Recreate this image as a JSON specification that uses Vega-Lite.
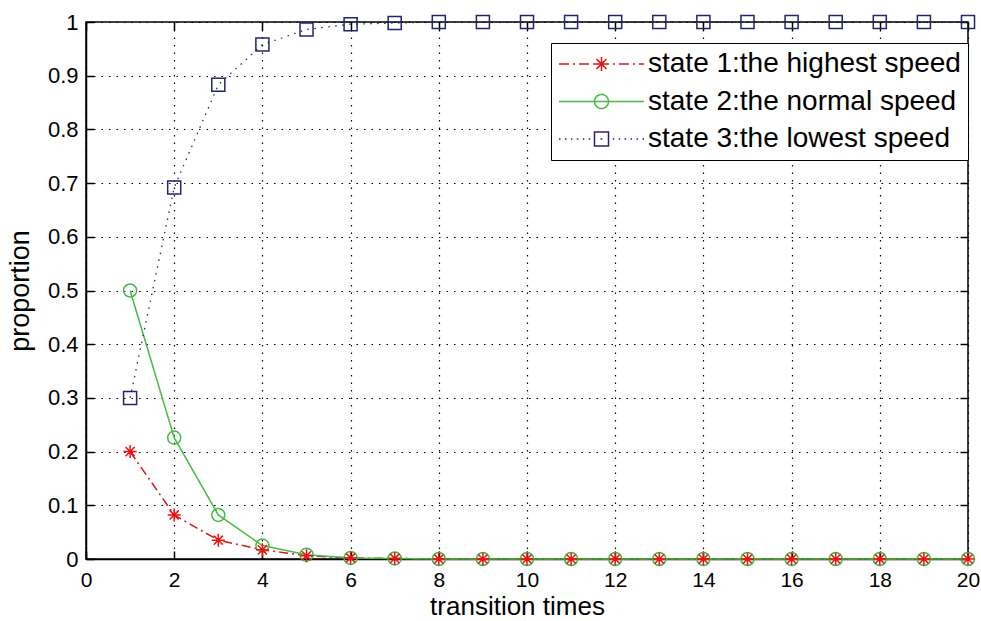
{
  "$schema": "https://vega.github.io/schema/vega-lite/v6.json",
  "width": 882,
  "height": 537,
  "autosize": "none",
  "padding": {"left": 86, "top": 22, "right": 13, "bottom": 62},
  "background": "white",
  "config": {
    "font": "Liberation Sans",
    "view": {"stroke": "black", "strokeWidth": 1.5}
  },
  "data": {"values": [
    {"t": 1, "state": "state 1:the highest speed", "p": 0.2},
    {"t": 2, "state": "state 1:the highest speed", "p": 0.082},
    {"t": 3, "state": "state 1:the highest speed", "p": 0.035},
    {"t": 4, "state": "state 1:the highest speed", "p": 0.017},
    {"t": 5, "state": "state 1:the highest speed", "p": 0.006},
    {"t": 6, "state": "state 1:the highest speed", "p": 0.002},
    {"t": 7, "state": "state 1:the highest speed", "p": 0.001},
    {"t": 8, "state": "state 1:the highest speed", "p": 0},
    {"t": 9, "state": "state 1:the highest speed", "p": 0},
    {"t": 10, "state": "state 1:the highest speed", "p": 0},
    {"t": 11, "state": "state 1:the highest speed", "p": 0},
    {"t": 12, "state": "state 1:the highest speed", "p": 0},
    {"t": 13, "state": "state 1:the highest speed", "p": 0},
    {"t": 14, "state": "state 1:the highest speed", "p": 0},
    {"t": 15, "state": "state 1:the highest speed", "p": 0},
    {"t": 16, "state": "state 1:the highest speed", "p": 0},
    {"t": 17, "state": "state 1:the highest speed", "p": 0},
    {"t": 18, "state": "state 1:the highest speed", "p": 0},
    {"t": 19, "state": "state 1:the highest speed", "p": 0},
    {"t": 20, "state": "state 1:the highest speed", "p": 0},
    {"t": 1, "state": "state 2:the normal speed", "p": 0.5},
    {"t": 2, "state": "state 2:the normal speed", "p": 0.226},
    {"t": 3, "state": "state 2:the normal speed", "p": 0.082},
    {"t": 4, "state": "state 2:the normal speed", "p": 0.025},
    {"t": 5, "state": "state 2:the normal speed", "p": 0.008},
    {"t": 6, "state": "state 2:the normal speed", "p": 0.002},
    {"t": 7, "state": "state 2:the normal speed", "p": 0.001},
    {"t": 8, "state": "state 2:the normal speed", "p": 0},
    {"t": 9, "state": "state 2:the normal speed", "p": 0},
    {"t": 10, "state": "state 2:the normal speed", "p": 0},
    {"t": 11, "state": "state 2:the normal speed", "p": 0},
    {"t": 12, "state": "state 2:the normal speed", "p": 0},
    {"t": 13, "state": "state 2:the normal speed", "p": 0},
    {"t": 14, "state": "state 2:the normal speed", "p": 0},
    {"t": 15, "state": "state 2:the normal speed", "p": 0},
    {"t": 16, "state": "state 2:the normal speed", "p": 0},
    {"t": 17, "state": "state 2:the normal speed", "p": 0},
    {"t": 18, "state": "state 2:the normal speed", "p": 0},
    {"t": 19, "state": "state 2:the normal speed", "p": 0},
    {"t": 20, "state": "state 2:the normal speed", "p": 0},
    {"t": 1, "state": "state 3:the lowest speed", "p": 0.3},
    {"t": 2, "state": "state 3:the lowest speed", "p": 0.692},
    {"t": 3, "state": "state 3:the lowest speed", "p": 0.883},
    {"t": 4, "state": "state 3:the lowest speed", "p": 0.958},
    {"t": 5, "state": "state 3:the lowest speed", "p": 0.986},
    {"t": 6, "state": "state 3:the lowest speed", "p": 0.996},
    {"t": 7, "state": "state 3:the lowest speed", "p": 0.998},
    {"t": 8, "state": "state 3:the lowest speed", "p": 1},
    {"t": 9, "state": "state 3:the lowest speed", "p": 1},
    {"t": 10, "state": "state 3:the lowest speed", "p": 1},
    {"t": 11, "state": "state 3:the lowest speed", "p": 1},
    {"t": 12, "state": "state 3:the lowest speed", "p": 1},
    {"t": 13, "state": "state 3:the lowest speed", "p": 1},
    {"t": 14, "state": "state 3:the lowest speed", "p": 1},
    {"t": 15, "state": "state 3:the lowest speed", "p": 1},
    {"t": 16, "state": "state 3:the lowest speed", "p": 1},
    {"t": 17, "state": "state 3:the lowest speed", "p": 1},
    {"t": 18, "state": "state 3:the lowest speed", "p": 1},
    {"t": 19, "state": "state 3:the lowest speed", "p": 1},
    {"t": 20, "state": "state 3:the lowest speed", "p": 1}
  ]},
  "resolve": {"axis": {"x": "independent", "y": "independent"}},
  "layer": [
    {
      "transform": [{"filter": "datum.state == 'state 1:the highest speed'"}],
      "mark": {"type": "line", "strokeWidth": 1.5, "strokeDash": [9, 4, 2, 4], "clip": false},
      "encoding": {
        "x": {"field": "t", "type": "quantitative",
          "scale": {"domain": [0, 20], "nice": false},
          "axis": {"orient": "bottom", "values": [0,2,4,6,8,10,12,14,16,18,20],
            "title": "transition times", "titleFontSize": 26, "titleFontWeight": "normal", "titleColor": "black",
            "titleX": 431, "titleY": 55, "titleBaseline": "alphabetic", "titleAnchor": "middle", "titleAlign": "center",
            "labelFontSize": 21, "labelColor": "black", "labelPadding": 18, "labelFlush": false,
            "tickSize": -8, "tickColor": "black", "tickWidth": 1.5,
            "domainColor": "black", "domainWidth": 1.5,
            "grid": true, "gridColor": "black", "gridDash": [1.5, 6], "gridWidth": 1.2}},
        "y": {"field": "p", "type": "quantitative",
          "scale": {"domain": [0, 1], "nice": false},
          "axis": {"orient": "left", "values": [0,0.1,0.2,0.3,0.4,0.5,0.6,0.7,0.8,0.9,1], "format": "~g",
            "title": "proportion", "titleFontSize": 27, "titleFontWeight": "normal", "titleColor": "black", "titlePadding": 13,
            "labelFontSize": 22, "labelColor": "black", "labelPadding": 16, "labelFlush": false,
            "tickSize": -8, "tickColor": "black", "tickWidth": 1.5,
            "domainColor": "black", "domainWidth": 1.5,
            "grid": true, "gridColor": "black", "gridDash": [1.5, 6], "gridWidth": 1.2}},
        "color": {"field": "state", "type": "nominal",
          "scale": {"domain": ["state 1:the highest speed", "state 2:the normal speed", "state 3:the lowest speed"],
                    "range": ["#d41a1a", "#44bb44", "#24246e"]},
          "legend": {"title": null, "orient": "none", "legendX": 465, "legendY": 21,
            "strokeColor": "black", "fillColor": "white", "padding": 7,
            "labelFontSize": 28, "labelColor": "black", "labelLimit": 0, "labelOffset": 3,
            "symbolSize": 7225, "symbolStrokeWidth": 1.5, "rowPadding": 9.5, "clipHeight": 28,
            "encoding": {"symbols": {
              "shape": {"condition": [
                {"test": "indexof(datum.value,'state 1')==0", "value": "M-1,0L-0.765,0M-0.671,0L-0.624,0M-0.53,0L-0.295,0M-0.2,0L-0.153,0M-0.06,0L0.175,0M0.27,0L0.317,0M0.41,0L0.645,0M0.74,0L0.787,0M0.88,0L1,0M0,-0.165L0,0.165M-0.165,0L0.165,0M-0.117,-0.117L0.117,0.117M-0.117,0.117L0.117,-0.117"},
                {"test": "indexof(datum.value,'state 2')==0", "value": "M-1,0L1,0M0.165,0A0.165,0.165,0,1,1,-0.165,0A0.165,0.165,0,1,1,0.165,0"}],
                "value": "M-1,0L-0.965,0M-0.86,0L-0.825,0M-0.72,0L-0.685,0M-0.58,0L-0.545,0M-0.44,0L-0.405,0M-0.3,0L-0.265,0M-0.02,0L0.02,0M0.265,0L0.3,0M0.405,0L0.44,0M0.545,0L0.58,0M0.685,0L0.72,0M0.825,0L0.86,0M0.965,0L1,0M-0.165,-0.165L0.165,-0.165L0.165,0.165L-0.165,0.165Z"},
              "strokeDash": {"value": [1, 0]},
              "fill": {"value": "transparent"}}}}}
      }
    },
    {
      "transform": [{"filter": "datum.state == 'state 2:the normal speed'"}],
      "mark": {"type": "line", "strokeWidth": 1.5, "color": "#44bb44", "clip": false},
      "encoding": {
        "x": {"field": "t", "type": "quantitative", "axis": null},
        "y": {"field": "p", "type": "quantitative", "axis": null}
      }
    },
    {
      "transform": [{"filter": "datum.state == 'state 3:the lowest speed'"}],
      "mark": {"type": "line", "strokeWidth": 1.3, "color": "#24246e", "strokeDash": [1.5, 5.5], "clip": false},
      "encoding": {
        "x": {"field": "t", "type": "quantitative", "axis": null},
        "y": {"field": "p", "type": "quantitative", "axis": null}
      }
    },
    {
      "transform": [{"filter": "datum.state == 'state 3:the lowest speed'"}],
      "mark": {"type": "point", "shape": "square", "filled": false, "size": 170, "strokeWidth": 1.5, "opacity": 1, "color": "#24246e", "clip": false},
      "encoding": {
        "x": {"field": "t", "type": "quantitative",
          "axis": {"orient": "top", "values": [0,2,4,6,8,10,12,14,16,18,20], "labels": false, "title": null,
            "tickSize": -8, "tickColor": "black", "tickWidth": 1.5, "domain": false, "grid": false}},
        "y": {"field": "p", "type": "quantitative",
          "axis": {"orient": "right", "values": [0,0.1,0.2,0.3,0.4,0.5,0.6,0.7,0.8,0.9,1], "labels": false, "title": null,
            "tickSize": -8, "tickColor": "black", "tickWidth": 1.5, "domain": false, "grid": false}}
      }
    },
    {
      "transform": [{"filter": "datum.state == 'state 2:the normal speed'"}],
      "mark": {"type": "point", "shape": "circle", "filled": false, "size": 170, "strokeWidth": 1.5, "opacity": 1, "color": "#44bb44", "clip": false},
      "encoding": {
        "x": {"field": "t", "type": "quantitative", "axis": null},
        "y": {"field": "p", "type": "quantitative", "axis": null}
      }
    },
    {
      "transform": [{"filter": "datum.state == 'state 1:the highest speed'"}],
      "mark": {"type": "point", "shape": "M0,-1L0,1M-1,0L1,0M-0.7,-0.7L0.7,0.7M-0.7,0.7L0.7,-0.7", "filled": false, "size": 170, "strokeWidth": 1.5, "opacity": 1, "color": "#ee1111", "clip": false},
      "encoding": {
        "x": {"field": "t", "type": "quantitative", "axis": null},
        "y": {"field": "p", "type": "quantitative", "axis": null}
      }
    }
  ]
}
